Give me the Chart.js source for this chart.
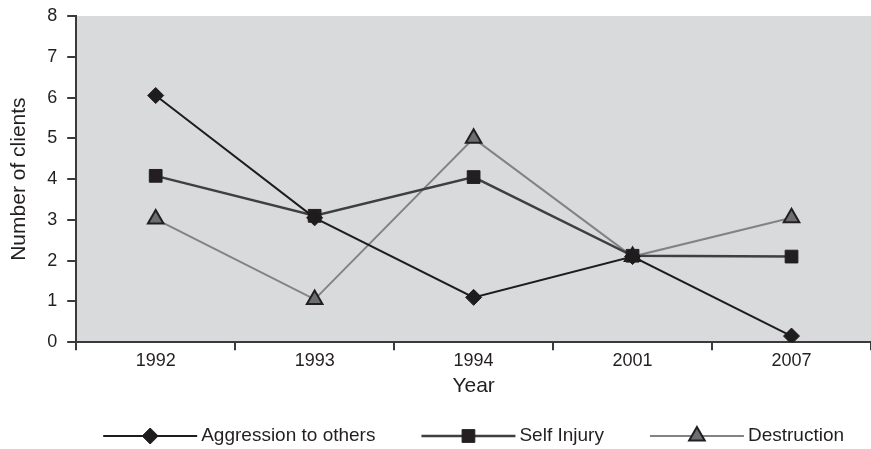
<!DOCTYPE html>
<html>
<head>
<meta charset="utf-8">
<script src="https://cdn.jsdelivr.net/npm/chart.js@4"></script>
<style>
  html, body { margin: 0; padding: 0; background: #fff; }
  #wrap { width: 871px; height: 449px; }
</style>
</head>
<body>
<div id="wrap"><canvas id="clientsChart"></canvas></div>
<script>
const years = ['1992', '1993', '1994', '2001', '2007'];
const aggression = [6.05, 3.05, 1.1, 2.1, 0.15];
const selfInjury = [4.08, 3.1, 4.05, 2.12, 2.1];
const destruction = [3.02, 1.05, 5.0, 2.1, 3.05];

const textColor = '#231f20';
const axisColor = '#3a3a3c';
const fontFamily = '"Liberation Sans", Arial, sans-serif';

// grey plot background
const plotBackground = {
    id: 'plotBackground',
    beforeDraw(chart) {
        const { ctx, chartArea } = chart;
        ctx.save();
        ctx.fillStyle = '#d9dadc';
        ctx.fillRect(chartArea.left, chartArea.top, chartArea.right - chartArea.left, chartArea.bottom - chartArea.top);
        ctx.restore();
    }
};

// legend items drawn as line + marker + label, like the original
const lineLegend = {
    id: 'lineLegend',
    afterDraw(chart) {
        const ctx = chart.ctx;
        const area = chart.chartArea;
        const lineLen = 94, textGap = 4, itemGap = 46;
        ctx.save();
        ctx.font = '19px ' + fontFamily;
        const items = chart.data.datasets.map(ds => ({ ds, w: lineLen + textGap + ctx.measureText(ds.label).width }));
        const total = items.reduce((s, it) => s + it.w, 0) + itemGap * (items.length - 1);
        let x = (area.left + area.right) / 2 - total / 2;
        const y = chart.height - 13;
        items.forEach(({ ds, w }) => {
            ctx.strokeStyle = ds.borderColor;
            ctx.lineWidth = ds.borderWidth;
            ctx.beginPath();
            ctx.moveTo(x, y);
            ctx.lineTo(x + lineLen, y);
            ctx.stroke();
            ctx.fillStyle = ds.pointBackgroundColor;
            ctx.strokeStyle = ds.pointBorderColor;
            ctx.lineWidth = ds.pointBorderWidth;
            Chart.helpers.drawPoint(ctx, {
                pointStyle: ds.pointStyle,
                radius: ds.pointRadius,
                borderWidth: ds.pointBorderWidth,
                rotation: 0
            }, x + lineLen / 2, y);
            ctx.fillStyle = textColor;
            ctx.textBaseline = 'middle';
            ctx.textAlign = 'left';
            ctx.fillText(ds.label, x + lineLen + textGap, y);
            x += w + itemGap;
        });
        ctx.restore();
    }
};

new Chart(document.getElementById('clientsChart'), {
    type: 'line',
    data: {
        labels: years,
        datasets: [{
            label: 'Aggression to others',
            data: aggression,
            borderColor: '#1f1c1d',
            borderWidth: 2,
            pointStyle: 'rectRot',
            pointRadius: 8,
            pointBackgroundColor: '#1f1c1d',
            pointBorderColor: '#1f1c1d',
            pointBorderWidth: 1
        }, {
            label: 'Self Injury',
            data: selfInjury,
            borderColor: '#3f3f41',
            borderWidth: 2.5,
            pointStyle: 'rect',
            pointRadius: 9,
            pointBackgroundColor: '#231f20',
            pointBorderColor: '#231f20',
            pointBorderWidth: 1
        }, {
            label: 'Destruction',
            data: destruction,
            borderColor: '#838385',
            borderWidth: 2,
            pointStyle: 'triangle',
            pointRadius: 9,
            pointBackgroundColor: '#6d6e71',
            pointBorderColor: '#231f20',
            pointBorderWidth: 2
        }]
    },
    options: {
        responsive: true,
        maintainAspectRatio: false,
        animation: false,
        layout: {
            autoPadding: false,
            padding: { top: 16, right: 0, bottom: 50, left: 5 }
        },
        plugins: {
            legend: { display: false },
            tooltip: { enabled: false }
        },
        scales: {
            x: {
                offset: true,
                afterFit(scale) {
                    scale.paddingLeft = 0;
                    scale.paddingRight = 0;
                },
                grid: {
                    offset: true,
                    drawOnChartArea: false,
                    drawTicks: true,
                    tickLength: 8,
                    color: axisColor,
                    lineWidth: 2
                },
                border: { color: axisColor, width: 2 },
                ticks: {
                    color: textColor,
                    padding: 0,
                    font: { family: fontFamily, size: 18 }
                },
                title: {
                    display: true,
                    text: 'Year',
                    color: textColor,
                    padding: { top: 2, bottom: 0 },
                    font: { family: fontFamily, size: 21 }
                }
            },
            y: {
                min: 0,
                max: 8,
                afterFit(scale) {
                    scale.paddingTop = 0;
                    scale.paddingBottom = 0;
                },
                grid: {
                    drawOnChartArea: false,
                    drawTicks: true,
                    tickLength: 9,
                    color: axisColor,
                    lineWidth: 2
                },
                border: { color: axisColor, width: 2 },
                ticks: {
                    stepSize: 1,
                    color: textColor,
                    padding: 10,
                    font: { family: fontFamily, size: 18 }
                },
                title: {
                    display: true,
                    text: 'Number of clients',
                    color: textColor,
                    padding: { top: 2, bottom: 5 },
                    font: { family: fontFamily, size: 21 }
                }
            }
        }
    },
    plugins: [plotBackground, lineLegend]
});
</script>
</body>
</html>
